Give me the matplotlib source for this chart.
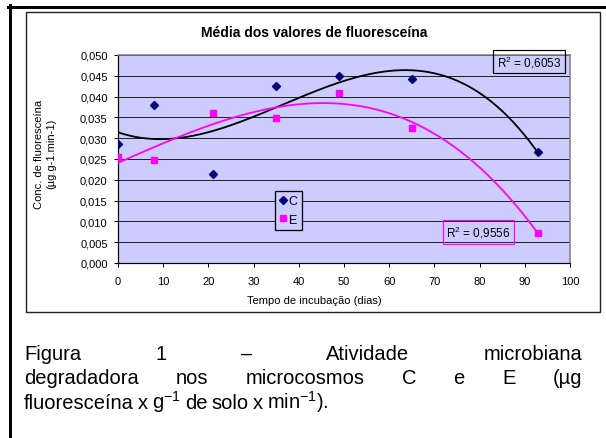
import numpy as np
import matplotlib
matplotlib.use('Agg')
import matplotlib.pyplot as plt
from matplotlib.patches import Rectangle
from matplotlib.lines import Line2D
from matplotlib.ticker import FuncFormatter

# ---------------- data ----------------
days = [0, 8, 21, 35, 49, 65, 93]
conc_C = [0.0286, 0.0380, 0.0214, 0.0426, 0.0450, 0.0442, 0.0267]
conc_E = [0.0255, 0.0248, 0.0361, 0.0349, 0.0409, 0.0325, 0.0072]
series_names = ['C', 'E']
r2_labels = ['R$^2$ = 0,6053', 'R$^2$ = 0,9556']
xticks = [0, 10, 20, 30, 40, 50, 60, 70, 80, 90, 100]
yticks = [0.000, 0.005, 0.010, 0.015, 0.020, 0.025, 0.030, 0.035, 0.040, 0.045, 0.050]
title = 'Média dos valores de fluoresceína'
xlabel = 'Tempo de incubação (dias)'
ylabel = 'Conc. de fluoresceína\n(µg.g-1.min-1)'
caption_lines = [
    ['Figura', '1', '–', 'Atividade', 'microbiana'],
    ['degradadora', 'nos', 'microcosmos', 'C', 'e', 'E', '(µg'],
    ['fluoresceína', 'x', 'g$^{\\mathregular{-1}}$', 'de', 'solo', 'x', 'min$^{\\mathregular{-1}}$).'],
]

plt.rcParams['font.family'] = ['Liberation Sans', 'DejaVu Sans']
plt.rcParams['mathtext.default'] = 'regular'

W, H = 606, 439
fig = plt.figure(figsize=(W / 100, H / 100), dpi=100)


def fx(px):
    return px / W


def fy(py):
    return 1 - py / H


PT = 0.72  # points per pixel

# outer thick frame (top and left)
fig.add_artist(Line2D([fx(8), fx(606)], [fy(7.5), fy(7.5)], color='black', lw=3 * PT))
fig.add_artist(Line2D([fx(9.5), fx(9.5)], [fy(6), fy(439)], color='black', lw=3 * PT))
# chart frame
fig.add_artist(Rectangle((fx(25.5), fy(313)), fx(600) - fx(25.5), fy(12.5) - fy(313),
                         transform=fig.transFigure, fill=False, edgecolor='#222222', lw=1.4 * PT))

ax = fig.add_axes([fx(118), fy(264), fx(570) - fx(118), fy(56) - fy(264)])
ax.set_facecolor('#CCCCFF')
ax.set_xlim(0, 100)
ax.set_ylim(0, 0.050)
ax.set_xticks(xticks)
ax.set_yticks(yticks)
ax.yaxis.set_major_formatter(FuncFormatter(lambda v, p: f'{v:.3f}'.replace('.', ',')))
ax.tick_params(axis='both', direction='out', length=4 * PT, width=1 * PT, labelsize=8, color='black')
ax.tick_params(axis='x', pad=6.5)
ax.tick_params(axis='y', pad=4.5)
ax.yaxis.grid(True, color='#222222', lw=1.0 * PT)
ax.set_axisbelow(True)
for s in ['left', 'bottom']:
    ax.spines[s].set_color('black')
    ax.spines[s].set_linewidth(1.2 * PT)
for s in ['top', 'right']:
    ax.spines[s].set_color('#808080')
    ax.spines[s].set_linewidth(1.6 * PT)

# trendlines (3rd order polynomial)
xs = np.linspace(min(days), max(days), 300)
cC = np.polyfit(days, conc_C, 3)
cE = np.polyfit(days, conc_E, 3)

hC, = ax.plot(days, conc_C, ls='none', marker='D', color='#000080', ms=4.2, label=series_names[0], zorder=3)
hE, = ax.plot(days, conc_E, ls='none', marker='s', color='#FF00FF', ms=4.5, label=series_names[1], zorder=3)
ax.plot(xs, np.polyval(cC, xs), color='black', lw=1.8 * PT, zorder=4)
ax.plot(xs, np.polyval(cE, xs), color='#FF00FF', lw=1.8 * PT, zorder=4)

leg = ax.legend(handles=[hC, hE], loc='upper left', bbox_to_anchor=(fx(275), fy(192)),
                bbox_transform=fig.transFigure, frameon=True, fancybox=False, edgecolor='black',
                facecolor='#CCCCFF', framealpha=1, fontsize=9, handlelength=0.5,
                handletextpad=0.25, borderpad=0.35, borderaxespad=0, labelspacing=0.5)
leg.get_frame().set_linewidth(1.3 * PT)

# R^2 labels
fig.text(fx(529), fy(62.5), r2_labels[0], fontsize=8.5, ha='center', va='center',
         bbox=dict(boxstyle='square,pad=0.3', facecolor='none', edgecolor='black', lw=1.2 * PT))
fig.text(fx(478.5), fy(233), r2_labels[1], fontsize=8.5, ha='center', va='center',
         bbox=dict(boxstyle='square,pad=0.3', facecolor='none', edgecolor='#FF00FF', lw=1.2 * PT))

# titles
fig.text(fx(314), fy(33), title, fontsize=10, fontweight='bold', ha='center', va='center')
fig.text(fx(314), fy(301), xlabel, fontsize=8, ha='center', va='center')
fig.text(fx(45), fy(154), ylabel, fontsize=8, ha='center', va='center', rotation=90,
         multialignment='center', linespacing=1.3)

# caption (justified)
cap_fs = 14.5
renderer = fig.canvas.get_renderer()
baselines = [360, 384.5, 409]
x_left, x_right = 24, 582
for i, words in enumerate(caption_lines):
    texts = [fig.text(0, fy(baselines[i]), w, fontsize=cap_fs, ha='left', va='baseline') for w in words]
    widths = [t.get_window_extent(renderer).width for t in texts]
    if i < len(caption_lines) - 1:
        gap = (x_right - x_left - sum(widths)) / (len(words) - 1)
    else:
        gap = 0.2 * cap_fs * 100 / 72
    x = x_left
    for t, w in zip(texts, widths):
        t.set_x(fx(x))
        x += w + gap

fig.savefig('out.png', dpi=100)
